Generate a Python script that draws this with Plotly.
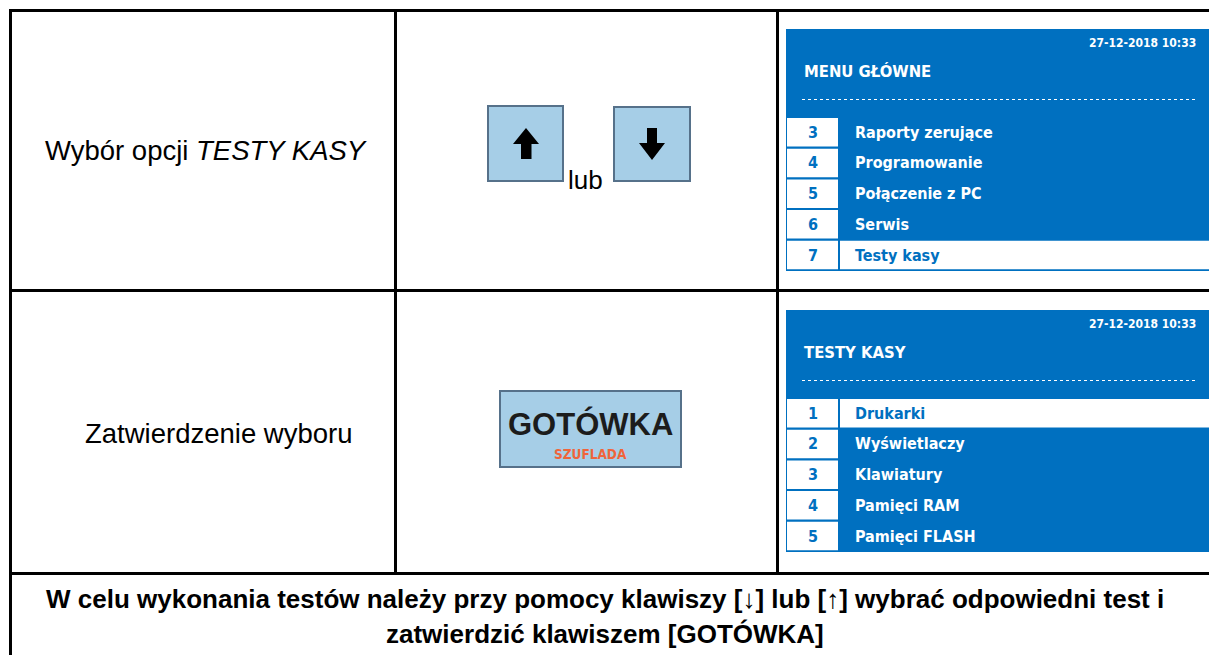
import plotly.graph_objects as go

W, H = 1209, 655

# ---- content ----
row_labels = ["Wybór opcji <i>TESTY KASY</i>", "Zatwierdzenie wyboru"]
key_or = "lub"
cash_key = "GOTÓWKA"
cash_sub = "SZUFLADA"
screen_date = "27-12-2018 10:33"
screen_titles = ["MENU GŁÓWNE", "TESTY KASY"]
menu1_nums = ["3", "4", "5", "6", "7"]
menu1_items = ["Raporty zerujące", "Programowanie", "Połączenie z PC", "Serwis", "Testy kasy"]
menu1_selected = 4
menu2_nums = ["1", "2", "3", "4", "5"]
menu2_items = ["Drukarki", "Wyświetlaczy", "Klawiatury", "Pamięci RAM", "Pamięci FLASH"]
menu2_selected = 0
footer_lines = ["W celu wykonania testów należy przy pomocy klawiszy [↓] lub [↑] wybrać odpowiedni test i",
                "zatwierdzić klawiszem [GOTÓWKA]"]

BLUE = "#0070C0"
KEYFILL = "#A6CEE7"
KEYLINE = "#56718A"
ORANGE = "#F0643A"
ARIAL = "Liberation Sans, Arial, sans-serif"
NARROW = "Liberation Sans Narrow, DejaVu Sans Condensed, sans-serif"

fig = go.Figure()
fig.add_trace(go.Scatter(x=[0, W], y=[0, H], mode="markers", marker=dict(opacity=0), hoverinfo="skip", showlegend=False))

shapes = []
ann = []

def line(x0, y0, x1, y1, color="black", width=3, dash=None):
    d = dict(type="line", x0=x0, y0=y0, x1=x1, y1=y1, line=dict(color=color, width=width))
    if dash:
        d["line"]["dash"] = dash
    shapes.append(d)

def rect(x0, y0, x1, y1, fill, lc=None, lw=0):
    shapes.append(dict(type="rect", x0=x0, y0=y0, x1=x1, y1=y1, fillcolor=fill,
                       line=dict(color=lc or fill, width=lw)))

def text(x, y, s, size, color="black", family=ARIAL, xa="center", ya="middle", bold=False):
    if bold:
        s = "<b>" + s + "</b>"
    ann.append(dict(x=x, y=y, xref="x", yref="y", text=s, showarrow=False, xanchor=xa, yanchor=ya,
                    font=dict(size=size, color=color, family=family)))

# ---- table grid ----
line(9, 10.5, W, 10.5)
line(9, 290.5, W, 290.5)
line(9, 573.5, W, 573.5)
line(10.5, 9, 10.5, H)
line(395.5, 10.5, 395.5, 573.5)
line(777.5, 10.5, 777.5, 573.5)

# ---- left column ----
text(206, 150, row_labels[0], 27.5)
text(218, 433, row_labels[1], 27.5)

# ---- arrow keys ----
rect(488, 106, 563, 181, KEYFILL, KEYLINE, 2)
rect(614, 107, 690, 181, KEYFILL, KEYLINE, 2)
shapes.append(dict(type="path", path="M 513 144 L 526 128 L 539 144 L 531.5 144 L 531.5 159 L 521 159 L 521 144 Z",
                   fillcolor="black", line=dict(color="black", width=0)))
shapes.append(dict(type="path", path="M 639 143 L 652 160 L 665 143 L 657 143 L 657 128 L 647 128 L 647 143 Z",
                   fillcolor="black", line=dict(color="black", width=0)))
text(585.5, 180, key_or, 26)

# ---- cash key ----
rect(500, 391, 681, 467, KEYFILL, KEYLINE, 2)
text(590.5, 424, cash_key, 31, color="#1c1c1c", bold=True)
text(590.5, 454, cash_sub, 13.5, color=ORANGE, family=NARROW, bold=True)

# ---- screens ----
def screen(top, title, nums, items, sel):
    rect(786, top, W, top + 242, BLUE)
    text(1198, top + 14, screen_date, 12, color="white", family=NARROW, xa="right", bold=True)
    text(802, top + 42, title, 16.5, color="white", family=NARROW, xa="left", bold=True)
    line(802, top + 70.5, 1196, top + 70.5, color="white", width=1, dash="dot")
    for i, (n, it) in enumerate(zip(nums, items)):
        y0 = top + 89 + i * 30.7
        y1 = y0 + 28.5
        rect(787, y0, 838, y1, "white")
        if i == sel:
            rect(840, y0, W, y1, "white")
            c = BLUE
        else:
            c = "white"
        text(812.5, (y0 + y1) / 2, n, 16, color=BLUE, family=NARROW, bold=True)
        text(853, (y0 + y1) / 2, it, 16, color=c, family=NARROW, xa="left", bold=True)

screen(29, screen_titles[0], menu1_nums, menu1_items, menu1_selected)
screen(310, screen_titles[1], menu2_nums, menu2_items, menu2_selected)

# ---- footer ----
text(605, 599, footer_lines[0], 26, bold=True)
text(605, 634, footer_lines[1], 26, bold=True)

fig.update_layout(
    width=W, height=H, margin=dict(l=0, r=0, t=0, b=0),
    paper_bgcolor="white", plot_bgcolor="white",
    xaxis=dict(range=[0, W], visible=False, fixedrange=True),
    yaxis=dict(range=[H, 0], visible=False, fixedrange=True),
    shapes=shapes, annotations=ann, showlegend=False,
)
fig.write_html("out.html", config={"displayModeBar": False},
               post_script="document.body.style.margin='0';document.body.style.overflow='hidden';")
